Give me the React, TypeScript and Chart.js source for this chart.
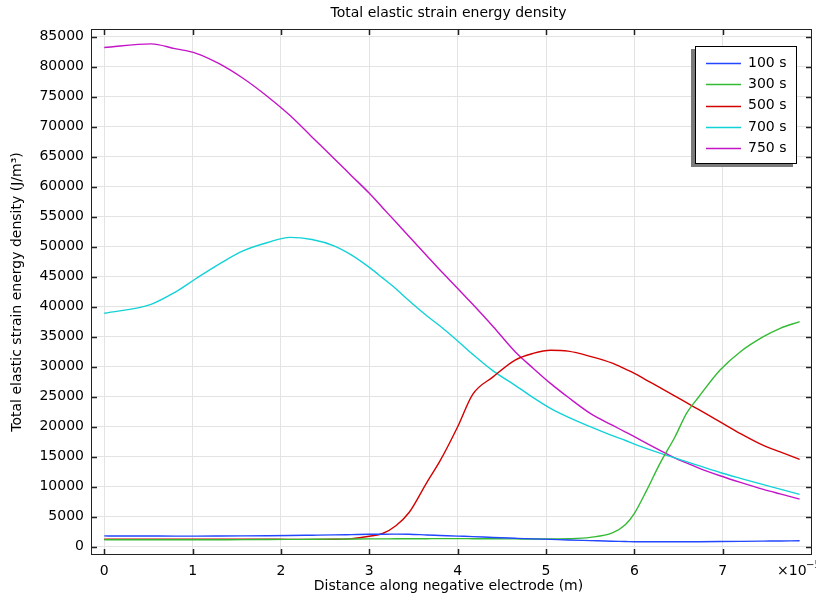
import React, { useEffect, useRef } from "react";
import { Chart, registerables } from "chart.js";

Chart.register(...registerables);

// Distance along negative electrode (×1e-5 m)
const distance = [
  0, 0.53, 0.8, 1.04, 1.3, 1.57, 1.85, 2.1, 2.35, 2.6, 2.8, 3.0, 3.15, 3.3,
  3.45, 3.65, 3.8, 4.0, 4.17, 4.4, 4.65, 4.85, 5.05, 5.25, 5.5, 5.75, 5.9, 6.0,
  6.14, 6.29, 6.46, 6.59, 6.73, 6.97, 7.2, 7.46, 7.65, 7.87,
];

const series100 = [
  1800, 1780, 1770, 1770, 1780, 1800, 1830, 1870, 1920, 1970, 2020, 2070, 2090,
  2100, 2080, 1960, 1880, 1770, 1690, 1540, 1410, 1310, 1220, 1120, 1020, 920,
  870, 830, 820, 820, 820, 830, 840, 860, 890, 930, 960, 1000,
];
const series300 = [
  1150, 1150, 1150, 1160, 1170, 1180, 1200, 1220, 1240, 1260, 1280, 1300, 1310,
  1320, 1330, 1340, 1350, 1350, 1340, 1320, 1300, 1290, 1280, 1320, 1560, 2300,
  3700, 5560, 9440, 13890, 18330, 22220, 25000, 29440, 32500, 35000, 36400,
  37500,
];
const series500 = [
  1250, 1250, 1250, 1250, 1250, 1250, 1240, 1230, 1230, 1250, 1350, 1750, 2200,
  3500, 5700, 10700, 14300, 20000, 25390, 28300, 31110, 32200, 32750, 32600,
  31730, 30600, 29590, 28890, 27740, 26510, 25110, 24000, 22830, 20810, 18860,
  16880, 15800, 14560,
];
const series700 = [
  38900, 40400, 42400, 44700, 47100, 49300, 50700, 51550, 51200, 50150, 48600,
  46550, 44800, 43000, 41000, 38500, 36780, 34300, 32060, 29300, 26900, 24900,
  23060, 21600, 20000, 18500, 17700, 17110, 16350, 15600, 14800, 14170, 13510,
  12370, 11400, 10350, 9600, 8720,
];
const series750 = [
  83200, 83800, 83000, 82230, 80500, 78070, 75000, 71900, 68300, 64700, 61800,
  58900, 56500, 54100, 51700, 48500, 46100, 43050, 40400, 36700, 32500, 29800,
  27220, 24900, 22220, 20250, 19100, 18330, 17230, 16060, 14760, 13960, 13100,
  11830, 10730, 9560, 8800, 7940,
];

const seriesLabels = ["100 s", "300 s", "500 s", "700 s", "750 s"];
const seriesColors = ["#2247ff", "#33bb33", "#d40000", "#12d2d8", "#c414c8"];
const seriesValues = [series100, series300, series500, series700, series750];

const xTicks = [0, 1, 2, 3, 4, 5, 6, 7];
const yTicks = [
  0, 5000, 10000, 15000, 20000, 25000, 30000, 35000, 40000, 45000, 50000,
  55000, 60000, 65000, 70000, 75000, 80000, 85000,
];

const titleText = "Total elastic strain energy density";
const xTitle = "Distance along negative electrode (m)";
const yTitle = "Total elastic strain energy density (J/m³)";

const FONT = "DejaVu Sans";

const decorPlugin = {
  id: "decor",
  afterDraw(chart: any) {
    const ctx = chart.ctx as CanvasRenderingContext2D;
    const { left, right, top, bottom } = chart.chartArea;
    const xs = chart.scales.x;
    const ys = chart.scales.y;
    ctx.save();
    // frame
    ctx.strokeStyle = "#222";
    ctx.lineWidth = 1;
    ctx.strokeRect(left + 0.5, top + 0.5, right - left - 1, bottom - top - 1);
    // inward ticks
    ctx.lineWidth = 1.5;
    ctx.strokeStyle = "#222";
    ctx.beginPath();
    xTicks.forEach((v) => {
      const px = Math.round(xs.getPixelForValue(v)) + 0.5;
      ctx.moveTo(px, bottom);
      ctx.lineTo(px, bottom - 6);
      ctx.moveTo(px, top);
      ctx.lineTo(px, top + 6);
    });
    yTicks.forEach((v) => {
      const py = Math.round(ys.getPixelForValue(v)) + 0.5;
      ctx.moveTo(left, py);
      ctx.lineTo(left + 6, py);
      ctx.moveTo(right, py);
      ctx.lineTo(right - 6, py);
    });
    ctx.stroke();

    // texts
    ctx.fillStyle = "#000";
    ctx.font = `14px "${FONT}"`;
    ctx.textAlign = "center";
    ctx.textBaseline = "middle";
    ctx.fillText(titleText, (left + right) / 2 - 3, 13);
    ctx.fillText(xTitle, (left + right) / 2 - 3, 586);
    ctx.save();
    ctx.translate(17, (top + bottom) / 2);
    ctx.rotate(-Math.PI / 2);
    ctx.fillText(yTitle, 0, 0);
    ctx.restore();
    // exponent
    ctx.textAlign = "left";
    ctx.fillText("×10", 777, 571);
    ctx.font = `10px "${FONT}"`;
    ctx.fillText("−5", 806, 565);

    // legend
    const bx = 695;
    const by = 46;
    const bw = 102;
    const bh = 118;
    ctx.fillStyle = "#7a7a7a";
    ctx.fillRect(bx - 4, by + 3, bw, bh);
    ctx.fillStyle = "#fff";
    ctx.fillRect(bx, by, bw, bh);
    ctx.strokeStyle = "#000";
    ctx.lineWidth = 1;
    ctx.strokeRect(bx + 0.5, by + 0.5, bw - 1, bh - 1);
    ctx.font = `14px "${FONT}"`;
    ctx.textBaseline = "middle";
    chart.data.datasets.forEach((ds: any, i: number) => {
      const y = 63 + i * 21.3;
      ctx.strokeStyle = ds.borderColor;
      ctx.lineWidth = 1.5;
      ctx.beginPath();
      ctx.moveTo(706, Math.round(y) + 0.5);
      ctx.lineTo(741, Math.round(y) + 0.5);
      ctx.stroke();
      ctx.fillStyle = "#000";
      ctx.fillText(ds.label, 748, y);
    });
    ctx.restore();
  },
};

export default function App() {
  const ref = useRef<HTMLCanvasElement | null>(null);
  useEffect(() => {
    document.body.style.margin = "0";
    const canvas = ref.current;
    if (!canvas) return;
    const datasets = seriesLabels.map((label, i) => ({
      label,
      data: distance.map((d, j) => ({ x: d, y: seriesValues[i][j] })),
      borderColor: seriesColors[i],
      backgroundColor: seriesColors[i],
      borderWidth: 1.4,
      pointRadius: 0,
      fill: false,
      cubicInterpolationMode: "monotone" as const,
    }));
    const chart = new Chart(canvas, {
      type: "line",
      data: { datasets },
      options: {
        responsive: false,
        animation: false,
        layout: { padding: { top: 29, right: 4, left: 0, bottom: 0 } },
        plugins: {
          legend: { display: false },
          title: { display: false },
          tooltip: { enabled: false },
        },
        scales: {
          x: {
            type: "linear",
            min: -0.15,
            max: 8.01,
            afterBuildTicks: (s: any) => {
              s.ticks = xTicks.map((v) => ({ value: v }));
            },
            afterFit: (s: any) => {
              s.height = 42;
            },
            grid: { color: "#e3e3e3", drawTicks: false, lineWidth: 1 },
            border: { display: false },
            ticks: {
              font: { family: FONT, size: 14 },
              color: "#000",
              padding: 8,
              maxRotation: 0,
              autoSkip: false,
              callback: (v: any) => String(v),
            },
          },
          y: {
            type: "linear",
            min: -1380,
            max: 86280,
            afterBuildTicks: (s: any) => {
              s.ticks = yTicks.map((v) => ({ value: v }));
            },
            afterFit: (s: any) => {
              s.width = 91;
            },
            grid: { color: "#e3e3e3", drawTicks: false, lineWidth: 1 },
            border: { display: false },
            ticks: {
              font: { family: FONT, size: 14 },
              color: "#000",
              padding: 7,
              autoSkip: false,
              callback: (v: any) => String(v),
            },
          },
        },
      },
      plugins: [decorPlugin],
    });
    return () => chart.destroy();
  }, []);
  return (
    <canvas
      ref={ref}
      width={816}
      height={597}
      style={{ display: "block", width: 816, height: 597 }}
    />
  );
}
